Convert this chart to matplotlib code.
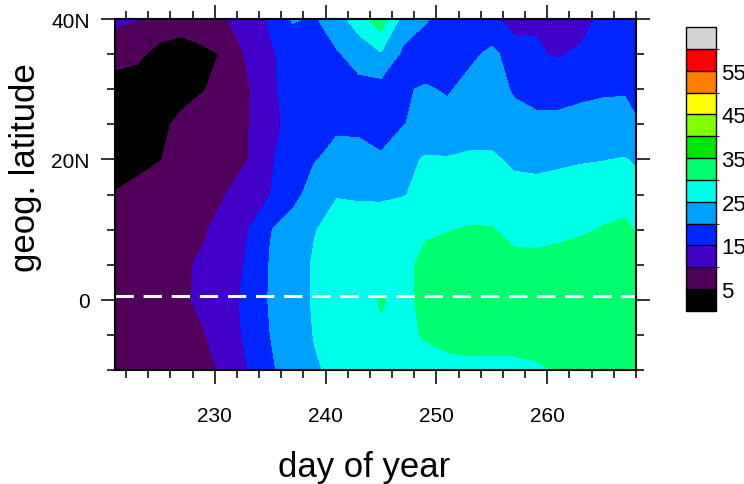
import numpy as np
import matplotlib
matplotlib.use("Agg")
from matplotlib import pyplot as plt
from matplotlib.colors import ListedColormap, BoundaryNorm
from matplotlib.ticker import MultipleLocator, FixedLocator

# day of year (grid columns) and geographic latitude (grid rows)
days = [221, 223, 225, 227, 229, 231, 233, 235, 237, 239, 241, 243, 245,
        247, 249, 251, 253, 255, 257, 259, 261, 263, 265, 267, 268]
lats = [-10, -5, 0, 5, 10, 15, 20, 25, 30, 35, 40]

# field values, one list per latitude
row_s10 = [6.0, 6.5, 7.0, 8.0, 9.2, 10.5, 15.0, 19.5, 21.5, 24.5, 26.0, 27.0, 27.5,
           28.0, 28.5, 28.5, 29.0, 29.0, 29.0, 29.5, 30.2, 31.0, 31.0, 31.5, 31.5]
row_s05 = [6.0, 6.5, 7.5, 8.5, 9.8, 12.5, 16.0, 20.0, 22.5, 25.2, 26.5, 27.5, 29.5,
           29.2, 30.3, 31.5, 31.5, 31.5, 31.5, 31.5, 32.0, 32.0, 32.0, 32.0, 32.0]
row_eq = [6.5, 7.0, 8.0, 9.2, 11.0, 13.5, 16.0, 20.5, 23.0, 25.5, 27.0, 28.5, 30.3,
          29.0, 31.0, 32.5, 33.0, 33.0, 32.5, 32.5, 33.0, 33.0, 33.0, 33.0, 32.5]
row_n05 = [6.5, 7.0, 8.0, 9.2, 10.8, 13.0, 15.5, 20.3, 23.0, 25.5, 27.0, 28.0, 28.5,
           29.0, 31.0, 32.0, 32.0, 31.5, 31.0, 31.0, 31.5, 32.0, 32.5, 32.5, 32.0]
row_n10 = [6.5, 7.0, 7.5, 8.5, 9.5, 12.0, 14.9, 19.8, 22.0, 24.8, 26.5, 27.0, 27.5,
           28.0, 29.5, 29.8, 30.3, 30.2, 29.0, 28.8, 29.0, 29.5, 30.2, 30.5, 29.8]
row_n15 = [5.3, 6.5, 7.5, 8.5, 9.3, 10.0, 12.5, 15.0, 18.5, 22.0, 24.8, 24.5, 24.3,
           24.8, 26.0, 27.5, 28.0, 28.0, 27.0, 27.0, 27.5, 28.0, 28.5, 29.0, 28.5]
row_n20 = [2.5, 3.5, 4.8, 6.5, 8.0, 9.0, 10.0, 14.5, 17.0, 19.8, 21.0, 20.8, 20.3,
           23.5, 25.5, 25.3, 25.8, 25.8, 24.0, 23.5, 24.0, 24.5, 24.8, 25.3, 24.0]
row_n25 = [2.0, 2.5, 4.0, 6.0, 7.5, 8.5, 9.8, 13.5, 16.5, 18.0, 19.5, 19.5, 19.0,
           19.8, 21.5, 21.8, 22.5, 22.5, 21.5, 21.0, 21.0, 21.5, 21.5, 20.8, 20.3]
row_n30 = [2.0, 2.5, 3.0, 3.5, 4.8, 7.0, 9.5, 14.5, 16.0, 17.0, 18.0, 18.5, 18.0,
           19.5, 20.5, 19.5, 21.5, 22.0, 19.5, 18.5, 18.5, 19.0, 19.5, 19.8, 19.0]
row_n35 = [7.5, 6.0, 3.5, 3.0, 4.0, 5.5, 11.0, 14.5, 16.5, 18.0, 19.5, 22.0, 24.5,
           19.0, 17.0, 17.0, 19.0, 21.0, 18.0, 15.5, 14.5, 16.0, 17.0, 18.0, 18.5]
row_n40 = [10.8, 10.2, 8.0, 7.0, 8.0, 9.8, 12.5, 15.5, 20.5, 19.5, 23.0, 27.5, 33.0,
           23.0, 20.5, 18.0, 17.0, 16.5, 12.5, 14.5, 13.5, 12.5, 16.5, 17.0, 17.0]

levels = [5, 10, 15, 20, 25, 30, 35, 40, 45, 50, 55, 60]
cbar_ticks = [5, 15, 25, 35, 45, 55]
fill_colors = ["#50005a", "#4300c8", "#0026ff", "#00a0ff", "#00ffeb", "#00ff6e",
               "#00e600", "#80ff00", "#ffff00", "#ff8000", "#ff0000"]
under_color = "#000000"
over_color = "#d3d3d3"
eq_lat = 0.5

field = np.array([row_s10, row_s05, row_eq, row_n05, row_n10, row_n15,
                  row_n20, row_n25, row_n30, row_n35, row_n40])

cmap = ListedColormap(fill_colors)
cmap.set_under(under_color)
cmap.set_over(over_color)
norm = BoundaryNorm(levels, cmap.N)

tick_font = ["Liberation Sans", "DejaVu Sans"]
label_font = ["Liberation Sans", "DejaVu Sans"]

fig = plt.figure(figsize=(7.44, 4.85), dpi=100)
ax = fig.add_axes([115 / 744, 1 - 371 / 485, 521 / 744, 351 / 485])

cs = ax.contourf(days, lats, field, levels=levels, cmap=cmap, norm=norm, extend="both")
ax.axhline(eq_lat, color="white", lw=2.2, dashes=(6, 3.2))

ax.set_xlim(221, 268)
ax.set_ylim(-10, 40)
ax.xaxis.set_major_locator(FixedLocator([230, 240, 250, 260]))
ax.xaxis.set_minor_locator(MultipleLocator(2))
ax.yaxis.set_major_locator(FixedLocator([0, 20, 40]))
ax.yaxis.set_minor_locator(MultipleLocator(5))
ax.set_yticklabels(["0", "20N", "40N"])

ax.tick_params(which="both", direction="out", top=True, right=True, width=1.3, color="#222222")
ax.tick_params(which="major", length=10, pad=8, labelsize=15)
ax.tick_params(axis="x", which="major", pad=16)
ax.tick_params(which="minor", length=5.5)
for lab in ax.get_xticklabels() + ax.get_yticklabels():
    lab.set_family(tick_font)
for sp in ax.spines.values():
    sp.set_linewidth(1.5)

ax.set_xlabel("day of year", family=label_font, fontsize=25)
ax.set_ylabel("geog. latitude", family=label_font, fontsize=25)
ax.xaxis.set_label_coords(0.478, -0.228)
ax.yaxis.set_label_coords(-0.14, 0.58)

# labelbar on the right, end boxes for values below 5 and above 60
cax = fig.add_axes([686 / 744, 1 - 312 / 485, 30 / 744, 284 / 485])
cb = fig.colorbar(cs, cax=cax, ticks=cbar_ticks, extendrect=True, extendfrac="auto", drawedges=True)
cb.outline.set_linewidth(1.0)
cb.dividers.set_linewidth(1.0)
cb.ax.tick_params(length=0, labelsize=16, pad=4)
for lab in cb.ax.get_yticklabels():
    lab.set_family(tick_font)

fig.savefig("out.png", dpi=100)
